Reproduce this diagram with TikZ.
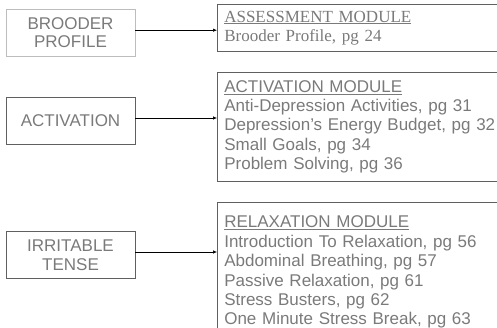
\documentclass[tikz,border=0pt]{standalone}
\usepackage{fontspec}
\setmainfont{Liberation Serif}
\setsansfont{Liberation Sans}
\usetikzlibrary{arrows.meta,calc}
\definecolor{txtgray}{HTML}{7A7A7A}
\definecolor{boxgray}{HTML}{606060}
\definecolor{paleline}{HTML}{BDBDBD}
\tikzset{
  leftbox/.style={draw=boxgray,semithick,minimum width=129pt,minimum height=47pt,align=center,
    text=txtgray,font=\sffamily\fontsize{17}{18.8}\selectfont,inner sep=0pt},
  modbox/.style={draw=boxgray,semithick,anchor=north west,minimum width=320pt,text width=306pt,
    inner xsep=7pt,inner ysep=0pt,align=left,text=txtgray,font=\sffamily\fontsize{17}{19.4}\selectfont},
  link/.style={-{Latex[length=4pt,width=3.5pt]},black,semithick}
}
\begin{document}
\begin{tikzpicture}[x=1pt,y=-1pt]
\useasboundingbox (0,0) rectangle (497,328);
%brooder profile
\node[leftbox,draw=paleline](brooder)at(70.5,32.7){BROODER\\PROFILE};
\node[modbox,minimum height=47pt,font=\rmfamily\fontsize{17}{19}\selectfont](assess)at(217,4)
  {\underline{ASSESSMENT MODULE}\\Brooder Profile, pg 24};
%activation
\node[leftbox](activ)at(70.5,120.5){ACTIVATION};
\node[modbox,minimum height=109pt](activmod)at(217,72)
  {\underline{ACTIVATION MODULE}\\Anti-Depression Activities, pg 31\\Depression’s Energy Budget, pg 32\\
   Small Goals, pg 34\\Problem Solving, pg 36};
%irritable tense
\node[leftbox](irrit)at(70.5,255){IRRITABLE\\TENSE};
\node[modbox,minimum height=140pt](relaxmod)at(217,202)
  {\underline{RELAXATION MODULE}\\Introduction To Relaxation, pg 56\\Abdominal Breathing, pg 57\\
   Passive Relaxation, pg 61\\Stress Busters, pg 62\\One Minute Stress Break, pg 63};
%arrows
\draw[link]([yshift=2.5pt]brooder.east)--([yshift=2.5pt]brooder.east -| assess.west);
\draw[link]([yshift=2.5pt]activ.east)--([yshift=2.5pt]activ.east -| activmod.west);
\draw[link]([yshift=3pt]irrit.east)--([yshift=3pt]irrit.east -| relaxmod.west);
\end{tikzpicture}
\end{document}
